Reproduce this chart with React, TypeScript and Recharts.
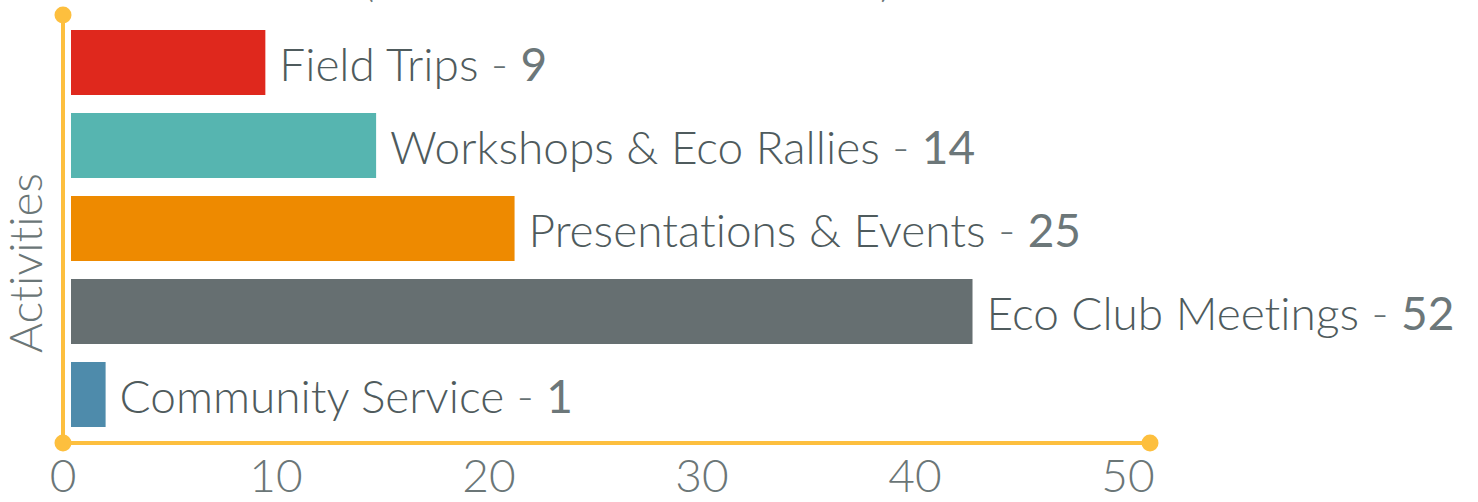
import { Bar, BarChart, LabelList, XAxis, YAxis, usePlotArea } from 'recharts'

const categories = [
  'Field Trips',
  'Workshops & Eco Rallies',
  'Presentations & Events',
  'Eco Club Meetings',
  'Community Service',
]
// numbers printed next to each bar
const counts = [9, 14, 25, 52, 1]
// bar ends as read against the x axis
const barLengths = [9.5, 14.7, 21.2, 42.7, 2.0]
const barColors = ['#df281d', '#56b5b0', '#ee8a00', '#666f71', '#4e8bab']
const xTicks = [0, 10, 20, 30, 40, 50]

const data = categories.map((name, i) => ({ name, count: counts[i], length: barLengths[i] }))

const AXIS = '#fdbf3e'
const FONT = 'Lato, "Open Sans", sans-serif'
const NO_LIGA = { fontVariantLigatures: 'none', fontFeatureSettings: '"liga" 0' } as const

function Decorations() {
  const area = usePlotArea()
  if (!area) return null
  const bottom = area.y + area.height
  return (
    <g>
      <line x1={area.x} y1={area.y} x2={area.x} y2={bottom} stroke={AXIS} strokeWidth={4} />
      <circle cx={area.x} cy={area.y} r={8.5} fill={AXIS} />
      <circle cx={area.x} cy={bottom} r={8.5} fill={AXIS} />
      <circle cx={area.x + area.width} cy={bottom} r={8.5} fill={AXIS} />
      <text
        x={0}
        y={0}
        transform={`translate(42, ${area.y + area.height / 2 + 34}) rotate(-90)`}
        textAnchor="middle"
        fontFamily={FONT}
        fontWeight={300}
        fontSize={46}
        fill="#6b7677"
        style={NO_LIGA}
      >
        Activities
      </text>
      {/* tail of the title, cut off above the picture */}
      <text x={362} y={-4} fontFamily={FONT} fontWeight={300} fontSize={48} fill="#6b7677">(</text>
      <text x={880} y={-4} fontFamily={FONT} fontWeight={300} fontSize={48} fill="#6b7677">)</text>
    </g>
  )
}

function BarShape(props: any) {
  const { x, y, width, height, index } = props
  return (
    <rect
      x={x + 8}
      y={y}
      width={Math.max(width - 8, 0)}
      height={height}
      fill={barColors[index]}
    />
  )
}

function BarLabel(props: any) {
  const { x, y, width, height, index } = props
  const row = data[index]
  return (
    <text
      x={x + width + 14}
      y={y + height / 2 + 18}
      fontFamily={FONT}
      fontSize={46}
      fontWeight={300}
      fill="#4f5b5d"
      style={NO_LIGA}
    >
      {row.name}
      <tspan fill="#667173">{` - `}</tspan>
      <tspan fontWeight={400} fill="#6c7779">{row.count}</tspan>
    </text>
  )
}

export default function App() {
  return (
    <div style={{ position: 'absolute', left: 0, top: 0 }}>
      <BarChart
        width={1478}
        height={502}
        data={data}
        layout="vertical"
        margin={{ top: 15, right: 328, left: 63, bottom: 0 }}
        barSize={65}
        style={{ overflow: 'visible' }}
      >
        <XAxis
          type="number"
          domain={[0, 50]}
          ticks={xTicks}
          padding={{ left: 0, right: 22 }}
          axisLine={{ stroke: AXIS, strokeWidth: 4 }}
          tickLine={false}
          tickSize={0}
          tickMargin={16}
          height={59}
          tick={{ fill: '#6b7677', fontSize: 46, fontFamily: FONT, fontWeight: 300 }}
        />
        <YAxis type="category" dataKey="name" hide padding={{ top: 6, bottom: 7 }} />
        <Bar dataKey="length" shape={BarShape} isAnimationActive={false}>
          <LabelList dataKey="length" content={BarLabel} />
        </Bar>
        <Decorations />
      </BarChart>
    </div>
  )
}
